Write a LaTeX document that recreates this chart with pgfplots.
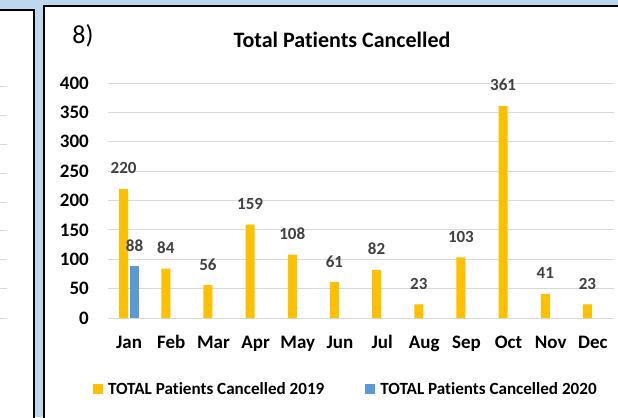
\documentclass[border=0pt]{standalone}
\usepackage{pgfplots}
\pgfplotsset{compat=1.18}
\usepackage{fontspec}
\setmainfont{Carlito}[Ligatures={NoCommon}]
\definecolor{bgblue}{HTML}{BDD7EE}
\definecolor{yel}{HTML}{FFC000}
\definecolor{blu}{HTML}{5B9BD5}
\definecolor{gridg}{HTML}{D9D9D9}
\definecolor{lblg}{HTML}{404040}
\begin{document}
\begin{tikzpicture}[x=1bp,y=1bp]
\useasboundingbox (0,0) rectangle (618,417);
\clip (0,0) rectangle (618,417);
\fill[bgblue] (0,0) rectangle (618,417);
\filldraw[fill=white,draw=black,line width=1.5bp] (-5,-5) rectangle (34,407);
\filldraw[fill=white,draw=black,line width=1.5bp] (44,-5) rectangle (630,411);
\foreach \y in {86,115,144,173,202,230,259,288,318} \draw[gridg,line width=1bp] (-1,417-\y) -- (7,417-\y);
\node[font=\fontsize{26bp}{30bp}\selectfont] at (83,381) {8)};
\node[font=\bfseries\fontsize{22bp}{26bp}\selectfont] at (342,377) {Total Patients Cancelled};
\begin{axis}[
  at={(108bp,99bp)}, anchor=south west, scale only axis,
  width=506bp, height=235bp,
  xmin=-0.5, xmax=11.5, ymin=0, ymax=400,
  ybar, bar width=9bp,
  xtick={0,...,11},
  xticklabels={Jan,Feb,Mar,Apr,May,Jun,Jul,Aug,Sep,Oct,Nov,Dec},
  ytick={0,50,...,400},
  ymajorgrids, grid style={gridg,line width=1bp},
  axis lines*=left,
  y axis line style={draw=none},
  x axis line style={gridg,line width=1bp,-},
  major tick length=0pt,
  /pgf/number format/assume math mode=true,
  yticklabel style={font=\bfseries\fontsize{19bp}{23bp}\selectfont, inner sep=0pt, anchor=east, xshift=-19bp},
  xticklabel style={font=\bfseries\fontsize{19bp}{23bp}\selectfont, inner sep=0pt, anchor=base, yshift=-30bp},
  nodes near coords,
  nodes near coords style={font=\bfseries\fontsize{17bp}{20bp}\selectfont, text=lblg, inner sep=0pt, anchor=base, yshift=15bp},
  legend style={at={(-0.03,-0.302)}, anchor=west, draw=none, fill=none, legend columns=2,
    font=\bfseries\fontsize{17.1bp}{21bp}\selectfont, inner sep=0pt,
    /tikz/every even column/.append style={column sep=39bp}},
  legend cell align=left,
]
\addplot[fill=yel, draw=none, bar shift=-5.5bp,
  legend image code/.code={\fill[yel] (0bp,-5bp) rectangle (10bp,5bp); \path (0bp,0bp) -- (13bp,0bp);}]
  coordinates {(0,220) (1,84) (2,56) (3,159) (4,108) (5,61) (6,82) (7,23) (8,103) (9,361) (10,41) (11,23)};
\addlegendentry{TOTAL Patients Cancelled 2019}
\addplot[fill=blu, draw=none, bar shift=5.5bp,
  legend image code/.code={\fill[blu] (0bp,-5bp) rectangle (10bp,5bp); \path (0bp,0bp) -- (13bp,0bp);}]
  coordinates {(0,88)};
\addlegendentry{TOTAL Patients Cancelled 2020}
\end{axis}
\end{tikzpicture}
\end{document}
